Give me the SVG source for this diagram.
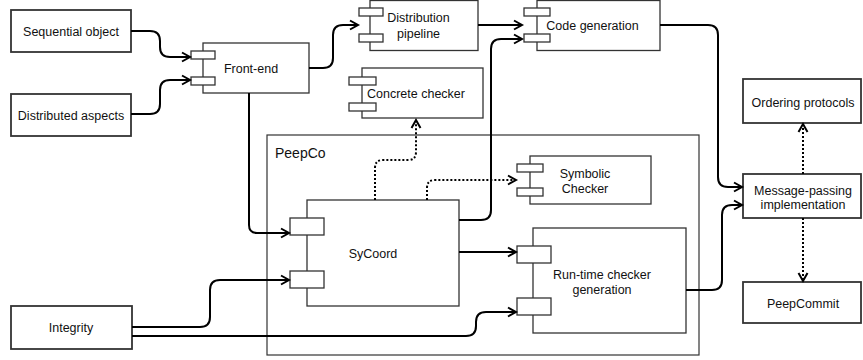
<svg xmlns="http://www.w3.org/2000/svg" width="863" height="360" viewBox="0 0 863 360">
<defs>
<marker id="arr" markerUnits="userSpaceOnUse" markerWidth="12" markerHeight="12" refX="9" refY="5" orient="auto" overflow="visible">
<path d="M1,0.5 L9,5 L1,9.5" fill="none" stroke="#000" stroke-width="2" stroke-dasharray="none" stroke-linejoin="miter"/>
</marker>
</defs>
<style>
.box{fill:#fff;stroke:#333;stroke-width:1.8}
.comp{fill:#fff;stroke:#333;stroke-width:1.3}
.port{fill:#fff;stroke:#333;stroke-width:1.3}
.cont{fill:none;stroke:#333;stroke-width:1.2}
text{font-family:"Liberation Sans",Arial,sans-serif;font-size:12.5px;fill:#111}
.c{text-anchor:middle}
.lbl{font-size:14px}
.edge{fill:none;stroke:#000;stroke-width:2;marker-end:url(#arr)}
.dot{stroke-dasharray:2 2}
</style>
<rect width="863" height="360" fill="#fff"/>

<g id="peepco">
<rect class="cont" x="267" y="135" width="432" height="220"/>
<text class="lbl" x="275" y="158">PeepCo</text>
</g>

<g id="sequential">
<rect class="box" x="11" y="10" width="120" height="42"/>
<text class="c" x="71" y="35.5">Sequential object</text>
</g>
<g id="distributed">
<rect class="box" x="11" y="94" width="120" height="42"/>
<text class="c" x="71" y="119.5">Distributed aspects</text>
</g>
<g id="integrity">
<rect class="box" x="11" y="306" width="121" height="43"/>
<text class="c" x="71" y="331.5">Integrity</text>
</g>

<g id="frontend">
<rect class="comp" x="203" y="43" width="106" height="50"/>
<rect class="port" x="191" y="51" width="24" height="8"/>
<rect class="port" x="191" y="77" width="24" height="8"/>
<text class="c" x="251" y="72.5">Front-end</text>
</g>

<g id="distpipe">
<rect class="comp" x="370" y="0.5" width="108" height="50"/>
<rect class="port" x="359" y="8" width="24" height="8"/>
<rect class="port" x="359" y="34" width="24" height="8"/>
<text class="c" x="418.5" y="21.5">Distribution</text>
<text class="c" x="418.5" y="37.5">pipeline</text>
</g>

<g id="codegen">
<rect class="comp" x="537" y="0.5" width="123" height="50"/>
<rect class="port" x="524" y="8" width="26" height="8"/>
<rect class="port" x="524" y="34" width="26" height="8"/>
<text class="c" x="592.5" y="29.5">Code generation</text>
</g>

<g id="concrete">
<rect class="comp" x="362" y="68" width="121" height="50"/>
<rect class="port" x="349" y="77" width="27" height="8"/>
<rect class="port" x="349" y="103" width="27" height="8"/>
<text class="c" x="416" y="97.5">Concrete checker</text>
</g>

<g id="symbolic">
<rect class="comp" x="530" y="156" width="121" height="48"/>
<rect class="port" x="517" y="164" width="26" height="8"/>
<rect class="port" x="517" y="188" width="26" height="8"/>
<text class="c" x="585" y="177.5">Symbolic</text>
<text class="c" x="585" y="192.5">Checker</text>
</g>

<g id="sycoord">
<rect class="comp" x="307" y="200" width="152" height="106"/>
<rect class="port" x="290" y="218" width="34" height="17"/>
<rect class="port" x="290" y="271" width="34" height="17"/>
<text class="c" x="373" y="257.5">SyCoord</text>
</g>

<g id="runtime">
<rect class="comp" x="533" y="228" width="153" height="105"/>
<rect class="port" x="517" y="246" width="34" height="17"/>
<rect class="port" x="517" y="298" width="34" height="17"/>
<text class="c" x="602" y="278.5">Run-time checker</text>
<text class="c" x="602" y="293.5">generation</text>
</g>

<g id="ordering">
<rect class="box" x="743" y="79" width="118" height="44"/>
<text class="c" x="803" y="106.5">Ordering protocols</text>
</g>
<g id="msgpass">
<rect class="box" x="743" y="174" width="118" height="44"/>
<text class="c" x="803" y="194.5">Message-passing</text>
<text class="c" x="803" y="208.5">implementation</text>
</g>
<g id="peepcommit">
<rect class="box" x="743" y="282" width="118" height="41"/>
<text class="c" x="803" y="307.5">PeepCommit</text>
</g>

<g id="connectors">
<path class="edge" d="M131,31 H150 Q160,31 160,41 V47 Q160,57 170,57 H190"/>
<path class="edge" d="M131,114 H150 Q160,114 160,104 V90 Q160,80 170,80 H190"/>
<path class="edge" d="M309,68 H323 Q333,68 333,58 V35 Q333,25 343,25 H358"/>
<path class="edge" d="M478,25 H522"/>
<path class="edge" d="M459,220 H481 Q491,220 491,210 V49 Q491,39 501,39 H522"/>
<path class="edge" d="M660,25 H708 Q718,25 718,35 V177 Q718,187 728,187 H742"/>
<path class="edge" d="M686,290 H712 Q722,290 722,280 V215 Q722,205 732,205 H742"/>
<path class="edge" d="M249,93 V225 Q249,233 257,233 H289"/>
<path class="edge" d="M132,327 H200 Q210,327 210,317 V290 Q210,280 220,280 H289"/>
<path class="edge" d="M132,336 H466 Q476,336 476,326 V322 Q476,312 486,312 H516"/>
<path class="edge" d="M459,252 H516"/>
<path class="edge dot" d="M375,200 V168 Q375,160 383,160 H408 Q416,160 416,152 V120"/>
<path class="edge dot" d="M427,200 V188 Q427,180 435,180 H516"/>
<path class="edge dot" d="M803,174 V124"/>
<path class="edge dot" d="M803,218 V281"/>
</g>
</svg>
